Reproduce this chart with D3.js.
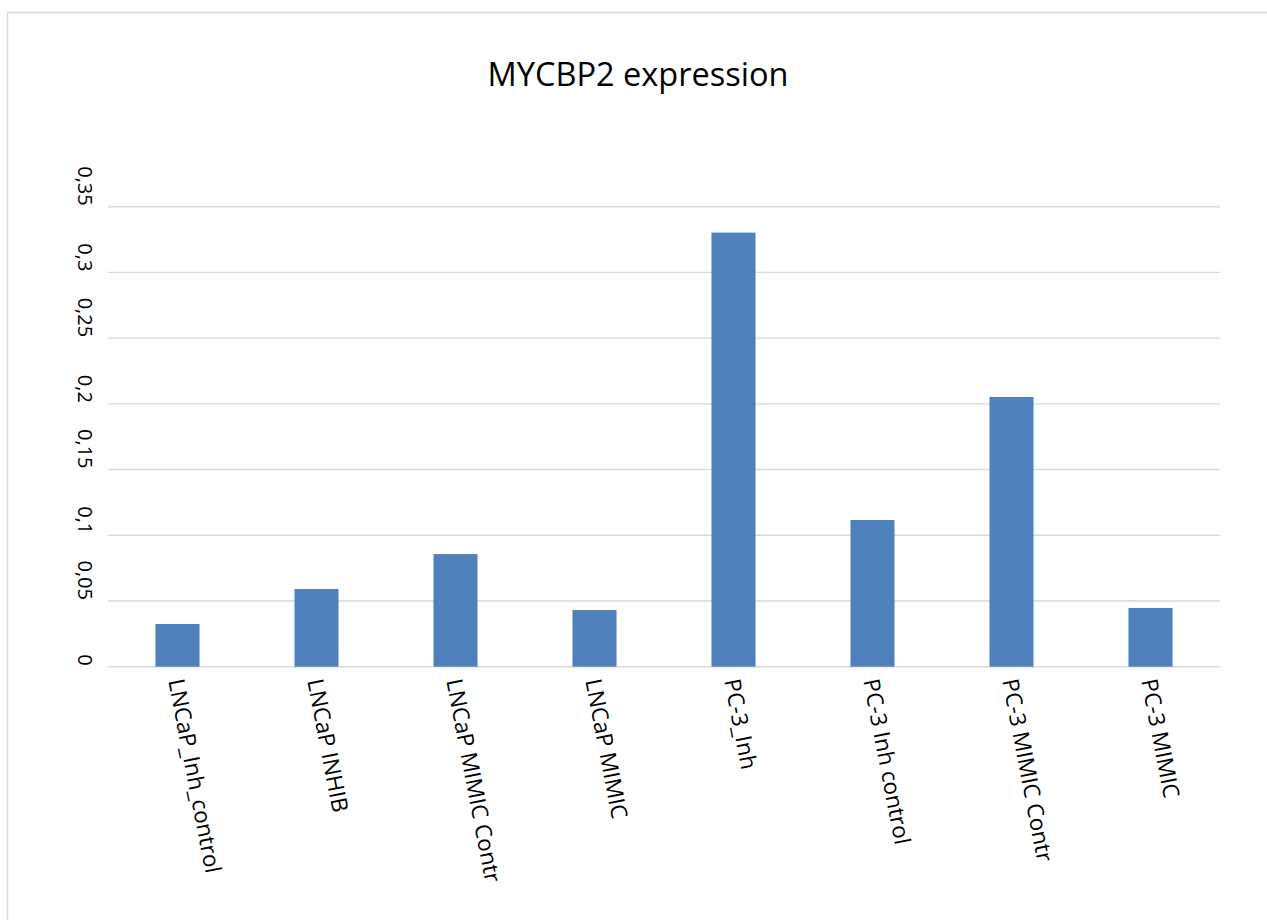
<!DOCTYPE html>
<html>
<head>
<meta charset="utf-8">
<script src="https://cdn.jsdelivr.net/npm/d3@7"></script>
<style>
  html, body { margin: 0; padding: 0; background: #fff; }
  svg { display: block; }
  text { font-family: "Open Sans", "Noto Sans", sans-serif; fill: #000; }
</style>
</head>
<body>
<svg id="chart" width="1267" height="920"></svg>
<script>
// MYCBP2 expression per sample
const categories = [
  "LNCaP_Inh_control",
  "LNCaP INHIB",
  "LNCaP MIMIC Contr",
  "LNCaP MIMIC",
  "PC-3_Inh",
  "PC-3 Inh control",
  "PC-3 MIMIC Contr",
  "PC-3 MIMIC"
];
const values = [0.0325, 0.0591, 0.0857, 0.0431, 0.3303, 0.1116, 0.2052, 0.0447];
const yTicks = [0, 0.05, 0.1, 0.15, 0.2, 0.25, 0.3, 0.35];
const yTickLabels = ["0", "0,05", "0,1", "0,15", "0,2", "0,25", "0,3", "0,35"];
const title = "MYCBP2 expression";

const svg = d3.select("#chart");
const W = 1267, H = 920;

// chart frame
svg.append("rect")
  .attr("x", 7.5).attr("y", 12.5)
  .attr("width", W + 10).attr("height", H + 10)
  .attr("fill", "#fff")
  .attr("stroke", "#d9d9d9")
  .attr("stroke-width", 1.4);

const plot = { left: 108, right: 1220, top: 206.7, bottom: 666.7 };

const x = d3.scaleBand()
  .domain(categories)
  .range([plot.left, plot.right])
  .paddingInner(0.683)
  .paddingOuter(0.3415);

const y = d3.scaleLinear()
  .domain([0, 0.35])
  .range([plot.bottom, plot.top]);

// title
svg.append("text")
  .attr("x", 638).attr("y", 86)
  .attr("text-anchor", "middle")
  .style("font-size", "32.5px")
  .text(title);

// horizontal gridlines
svg.append("g")
  .selectAll("line")
  .data(yTicks)
  .join("line")
  .attr("x1", plot.left).attr("x2", plot.right)
  .attr("y1", d => y(d)).attr("y2", d => y(d))
  .attr("stroke", "#d9d9d9")
  .attr("stroke-width", 1.4);

// y tick labels, rotated, ending at their gridline
svg.append("g")
  .selectAll("text")
  .data(yTicks)
  .join("text")
  .attr("transform", d => `translate(85,${y(d) - 1}) rotate(90)`)
  .attr("text-anchor", "end")
  .attr("dominant-baseline", "central")
  .style("font-size", "20px")
  .text((d, i) => yTickLabels[i]);

// bars
svg.append("g")
  .selectAll("rect")
  .data(values)
  .join("rect")
  .attr("x", (d, i) => x(categories[i]))
  .attr("width", x.bandwidth())
  .attr("y", d => y(d))
  .attr("height", d => y(0) - y(d))
  .attr("fill", "#4f81bd");

// category labels, slanted down from each band centre
svg.append("g")
  .selectAll("text")
  .data(categories)
  .join("text")
  .attr("transform", d => `translate(${x(d) + x.bandwidth() / 2 - 1},679) rotate(79)`)
  .attr("text-anchor", "start")
  .attr("dominant-baseline", "central")
  .style("font-size", "22.5px")
  .text(d => d);
</script>
</body>
</html>
